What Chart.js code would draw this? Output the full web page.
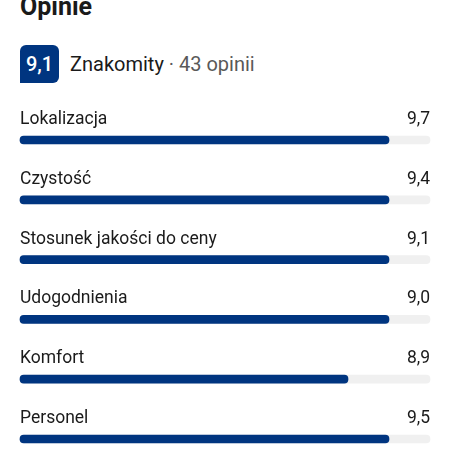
<!DOCTYPE html>
<html>
<head>
<meta charset="utf-8">
<script src="https://cdn.jsdelivr.net/npm/chart.js@4"></script>
<style>
  html, body { margin: 0; padding: 0; background: #fff; }
  body { width: 450px; height: 450px; position: relative; overflow: hidden; font-family: Roboto, "Noto Sans", sans-serif; color: #1a1a1a; }
  #title { position: absolute; left: 20px; top: -9px; font-size: 25px; font-weight: 700; line-height: 32px; }
  #badge { position: absolute; left: 20px; top: 45px; width: 39px; height: 38px; background: #003580; color: #fff;
           border-radius: 6px 6px 6px 0; font-size: 20px; font-weight: 500; line-height: 38px; text-align: center; }
  #summary { position: absolute; left: 70px; top: 52px; font-size: 20px; line-height: 24px; }
  #summary .count { color: #595959; }
  #wrap { position: absolute; left: 0; top: 0; width: 450px; height: 450px; }
</style>
</head>
<body>
<div id="title">Opinie</div>
<div id="badge">9,1</div>
<div id="summary">Znakomity <span class="count">· 43 opinii</span></div>
<div id="wrap"><canvas id="chart"></canvas></div>
<script>
const categories = ['Lokalizacja', 'Czystość', 'Stosunek jakości do ceny', 'Udogodnienia', 'Komfort', 'Personel'];
const scores = [9.7, 9.4, 9.1, 9.0, 8.9, 9.5];
// filled length of each bar, as drawn in the picture (out of 10)
const barFill = [9, 9, 9, 9, 8, 9];
const scaleMax = [10, 10, 10, 10, 10, 10];

const fmt = v => v.toFixed(1).replace('.', ',');

// category name above each bar, score at the right end
const rowLabels = {
    id: 'rowLabels',
    afterDatasetsDraw(chart) {
        const { ctx, chartArea, scales } = chart;
        ctx.save();
        ctx.font = '17.5px Roboto, "Noto Sans", sans-serif';
        ctx.fillStyle = '#1a1a1a';
        ctx.textBaseline = 'alphabetic';
        categories.forEach((name, i) => {
            const y = scales.y.getPixelForValue(i) - 16;
            ctx.textAlign = 'left';
            ctx.fillText(name, chartArea.left, y);
            ctx.textAlign = 'right';
            ctx.fillText(fmt(scores[i]), chartArea.right, y);
        });
        ctx.restore();
    }
};

new Chart(document.getElementById('chart').getContext('2d'), {
    type: 'bar',
    data: {
        labels: categories,
        datasets: [{
            label: 'Ocena',
            data: barFill,
            backgroundColor: '#003580',
            barThickness: 8,
            borderRadius: 4,
            borderSkipped: false,
            grouped: false,
            order: 1,
            clip: false
        }, {
            label: 'Skala',
            data: scaleMax,
            backgroundColor: '#f0f0f0',
            barThickness: 8,
            borderRadius: 4,
            borderSkipped: false,
            grouped: false,
            order: 2,
            clip: false
        }]
    },
    options: {
        indexAxis: 'y',
        responsive: true,
        maintainAspectRatio: false,
        animation: false,
        layout: { padding: { top: 140, bottom: 11, left: 20, right: 20 } },
        scales: {
            x: { display: false, min: 0, max: 10 },
            y: { display: false, offset: false }
        },
        plugins: {
            legend: { display: false },
            tooltip: { enabled: false }
        }
    },
    plugins: [rowLabels]
});
</script>
</body>
</html>
